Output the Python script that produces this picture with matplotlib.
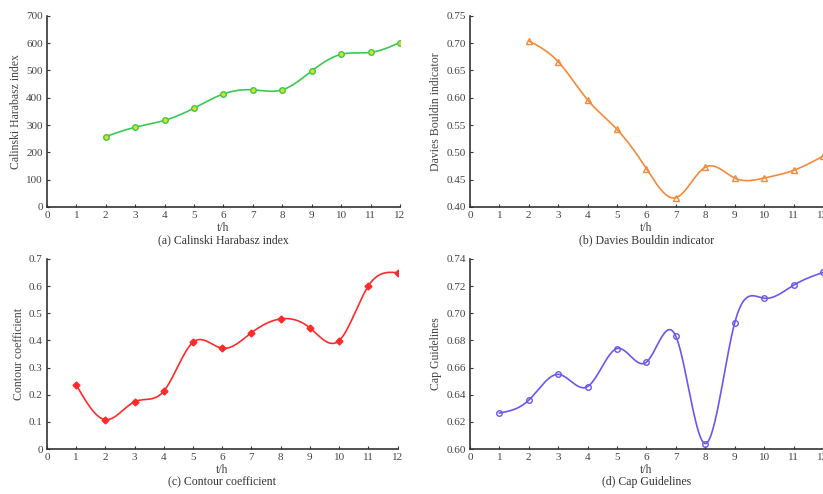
import matplotlib

matplotlib.use("Agg")
import matplotlib.pyplot as plt
import numpy as np

plt.rcParams["font.family"] = ["Liberation Serif", "DejaVu Serif"]
plt.rcParams["font.size"] = 8

# values
hours_ab = [2, 3, 4, 5, 6, 7, 8, 9, 10, 11, 12]
hours_cd = [1, 2, 3, 4, 5, 6, 7, 8, 9, 10, 11, 12]
calinski = [258, 292, 317, 362, 414, 429, 429, 498, 559, 566, 602]
davies = [0.704, 0.666, 0.596, 0.542, 0.470, 0.417, 0.473, 0.453, 0.453, 0.467, 0.493]
contour = [0.237, 0.108, 0.174, 0.213, 0.393, 0.371, 0.428, 0.479, 0.446, 0.399, 0.600, 0.649]
cap = [0.6265, 0.636, 0.655, 0.646, 0.674, 0.664, 0.683, 0.604, 0.693, 0.711, 0.7206, 0.730]


def natural_spline(x, y, n=300):
    """Natural cubic spline through the points, evaluated on a dense grid."""
    x = np.asarray(x, float)
    y = np.asarray(y, float)
    k = len(x)
    h = np.diff(x)
    A = np.zeros((k, k))
    b = np.zeros(k)
    A[0, 0] = A[-1, -1] = 1.0
    for i in range(1, k - 1):
        A[i, i - 1] = h[i - 1]
        A[i, i] = 2 * (h[i - 1] + h[i])
        A[i, i + 1] = h[i]
        b[i] = 3 * ((y[i + 1] - y[i]) / h[i] - (y[i] - y[i - 1]) / h[i - 1])
    c = np.linalg.solve(A, b)
    xs = np.linspace(x[0], x[-1], n)
    idx = np.clip(np.searchsorted(x, xs) - 1, 0, k - 2)
    dx = xs - x[idx]
    hi = h[idx]
    bb = (y[idx + 1] - y[idx]) / hi - hi * (2 * c[idx] + c[idx + 1]) / 3
    d = (c[idx + 1] - c[idx]) / (3 * hi)
    ys = y[idx] + bb * dx + c[idx] * dx ** 2 + d * dx ** 3
    return xs, ys


PANELS = [
    # x, y, color, marker, face, ylim, yticks, fmt, ylabel, caption, rect
    (hours_ab, calinski, "#3cc850", "o", "#d8e020", (0, 700), np.arange(0, 701, 100), "{:.0f}",
     "Calinski Harabasz index", "(a) Calinski Harabasz index", [0.057, 0.581, 0.429, 0.387]),
    (hours_ab, davies, "#f48a3c", "^", "none", (0.40, 0.75), np.arange(0.40, 0.751, 0.05), "{:.2f}",
     "Davies Bouldin indicator", "(b) Davies Bouldin indicator", [0.571, 0.581, 0.429, 0.387]),
    (hours_cd, contour, "#ff2a2a", "D", "#ff2a2a", (0, 0.7), np.arange(0, 0.71, 0.1), "{:.1f}",
     "Contour coefficient", "(c) Contour coefficient", [0.057, 0.091, 0.426, 0.385]),
    (hours_cd, cap, "#6a58ee", "o", "none", (0.60, 0.74), np.arange(0.60, 0.741, 0.02), "{:.2f}",
     "Cap Guidelines", "(d) Cap Guidelines", [0.571, 0.091, 0.429, 0.385]),
]

fig = plt.figure(figsize=(8.23, 4.94), dpi=100)
for x, y, color, marker, face, ylim, yticks, fmt, ylabel, caption, rect in PANELS:
    ax = fig.add_axes(rect)
    xs, ys = natural_spline(x, y)
    ax.plot(xs, ys, color=color, lw=1.2, zorder=2)
    ax.plot(x, y, ls="none", marker=marker, ms=4 if marker != "D" else 3.5,
            mfc=face, mec=color, mew=1.0, zorder=3)
    ax.set_xlim(0, 12)
    ax.set_ylim(*ylim)
    ax.set_xticks(range(0, 13))
    ax.set_yticks(yticks)
    ax.set_yticklabels([fmt.format(v) if v != 0 else "0" for v in yticks])
    for s in ("top", "right"):
        ax.spines[s].set_visible(False)
    for s in ("left", "bottom"):
        ax.spines[s].set_linewidth(1.2)
        ax.spines[s].set_color("#333333")
    ax.tick_params(direction="in", length=2.5, width=0.8, colors="#333333",
                   labelcolor="#444444", pad=3)
    ax.set_ylabel(ylabel, color="#444444", fontsize=8.5, labelpad=3)
    ax.set_xlabel("t/h", color="#444444", fontsize=8.5, labelpad=1)
    ax.text(0.5, -0.175, caption, transform=ax.transAxes, ha="center", va="center",
            color="#333333", fontsize=8.5)

fig.savefig("out.png", dpi=100)
